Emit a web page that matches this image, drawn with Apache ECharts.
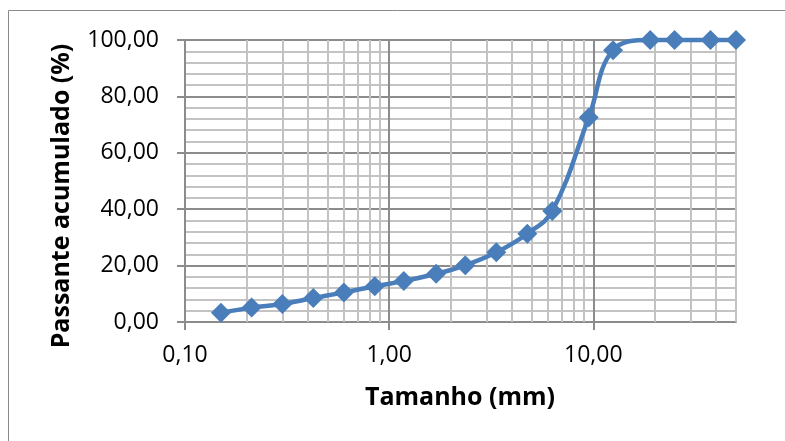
<!DOCTYPE html>
<html>
<head>
<meta charset="utf-8">
<script src="https://cdn.jsdelivr.net/npm/echarts@6/dist/echarts.min.js"></script>
<style>html,body{margin:0;padding:0;background:#fff}#c{width:785px;height:441px}</style>
</head>
<body>
<div id="c"></div>
<script>
// Sieve sizes (mm) and cumulative passing (%)
var sizes = [0.15, 0.212, 0.3, 0.425, 0.6, 0.85, 1.18, 1.7, 2.36, 3.35, 4.75, 6.3, 9.5, 12.5, 19, 25, 37.5, 50];
var passing = [3.3, 5.1, 6.4, 8.5, 10.5, 12.7, 14.5, 17.1, 20.1, 24.7, 31.3, 39.4, 72.5, 96.4, 100, 100, 100, 100];
var xMajorTicks = [0.1, 1, 10];
var xMinorGrid = [0.2, 0.3, 0.4, 0.5, 0.6, 0.7, 0.8, 0.9, 2, 3, 4, 5, 6, 7, 8, 9, 20, 30, 40, 50];
var yTicks = [0, 20, 40, 60, 80, 100];
var xTitle = 'Tamanho (mm)';
var yTitle = 'Passante acumulado (%)';

var FONT = '"Open Sans", sans-serif';
var fmt = function (v) { return Number(v).toFixed(2).replace('.', ','); };

var chart = echarts.init(document.getElementById('c'));
chart.setOption({
  animation: false,
  backgroundColor: '#fff',
  grid: { left: 185, top: 40, right: 49, bottom: 119, containLabel: false },
  xAxis: {
    type: 'log', logBase: 10, min: 0.1, max: 50,
    axisLine: { show: true, onZero: false, lineStyle: { color: '#8c8c8c', width: 2 } },
    axisTick: { show: true, length: 8, customValues: xMajorTicks, lineStyle: { color: '#8c8c8c', width: 2 } },
    axisLabel: { show: true, customValues: xMajorTicks, margin: 22, color: '#000', fontFamily: FONT, fontSize: 23, formatter: fmt },
    splitLine: { show: false },
    minorTick: { show: false },
    minorSplitLine: { show: false }
  },
  yAxis: {
    type: 'value', min: yTicks[0], max: yTicks[yTicks.length - 1], interval: 20,
    axisLine: { show: true, lineStyle: { color: '#8c8c8c', width: 2 } },
    axisTick: { show: true, length: 8, lineStyle: { color: '#8c8c8c', width: 2 } },
    axisLabel: { margin: 26, color: '#000', fontFamily: FONT, fontSize: 23, formatter: fmt },
    splitLine: { show: true, lineStyle: { color: '#8c8c8c', width: 2 } },
    minorTick: { show: false, splitNumber: 5 },
    minorSplitLine: { show: true, lineStyle: { color: '#c3c3c3', width: 2 } }
  },
  graphic: [
    { type: 'rect', shape: { x: 8.5, y: 10.5, width: 820, height: 460 }, style: { fill: 'none', stroke: '#8a8a8a', lineWidth: 1 }, silent: true, z: -10 },
    { type: 'text', x: 62, y: 196, rotation: Math.PI / 2, style: { text: yTitle, fontFamily: FONT, fontWeight: 'bold', fontSize: 25, fill: '#000', align: 'center', verticalAlign: 'middle' } },
    { type: 'text', x: 460, y: 398, style: { text: xTitle, fontFamily: FONT, fontWeight: 'bold', fontSize: 25, fill: '#000', align: 'center', verticalAlign: 'middle' } }
  ],
  series: [
    {
      type: 'line', data: [], silent: true, z: 1,
      markLine: {
        silent: true, symbol: 'none', animation: false,
        label: { show: false },
        lineStyle: { color: '#c3c3c3', width: 2, type: 'solid' },
        data: xMinorGrid.map(function (v) { return { xAxis: v }; })
      }
    },
    {
      type: 'line', data: [], silent: true, z: 1,
      markLine: {
        silent: true, symbol: 'none', animation: false,
        label: { show: false },
        lineStyle: { color: '#8c8c8c', width: 2, type: 'solid' },
        data: xMajorTicks.slice(1).map(function (v) { return { xAxis: v }; })
      }
    },
    {
      type: 'line', z: 5,
      data: sizes.map(function (s, i) { return [s, passing[i]]; }),
      smooth: 0.4,
      symbol: 'diamond', symbolSize: 20,
      lineStyle: { color: '#4a7ebb', width: 4.5 },
      itemStyle: { color: '#4a7ebb' },
      clip: false
    }
  ]
});
</script>
</body>
</html>
